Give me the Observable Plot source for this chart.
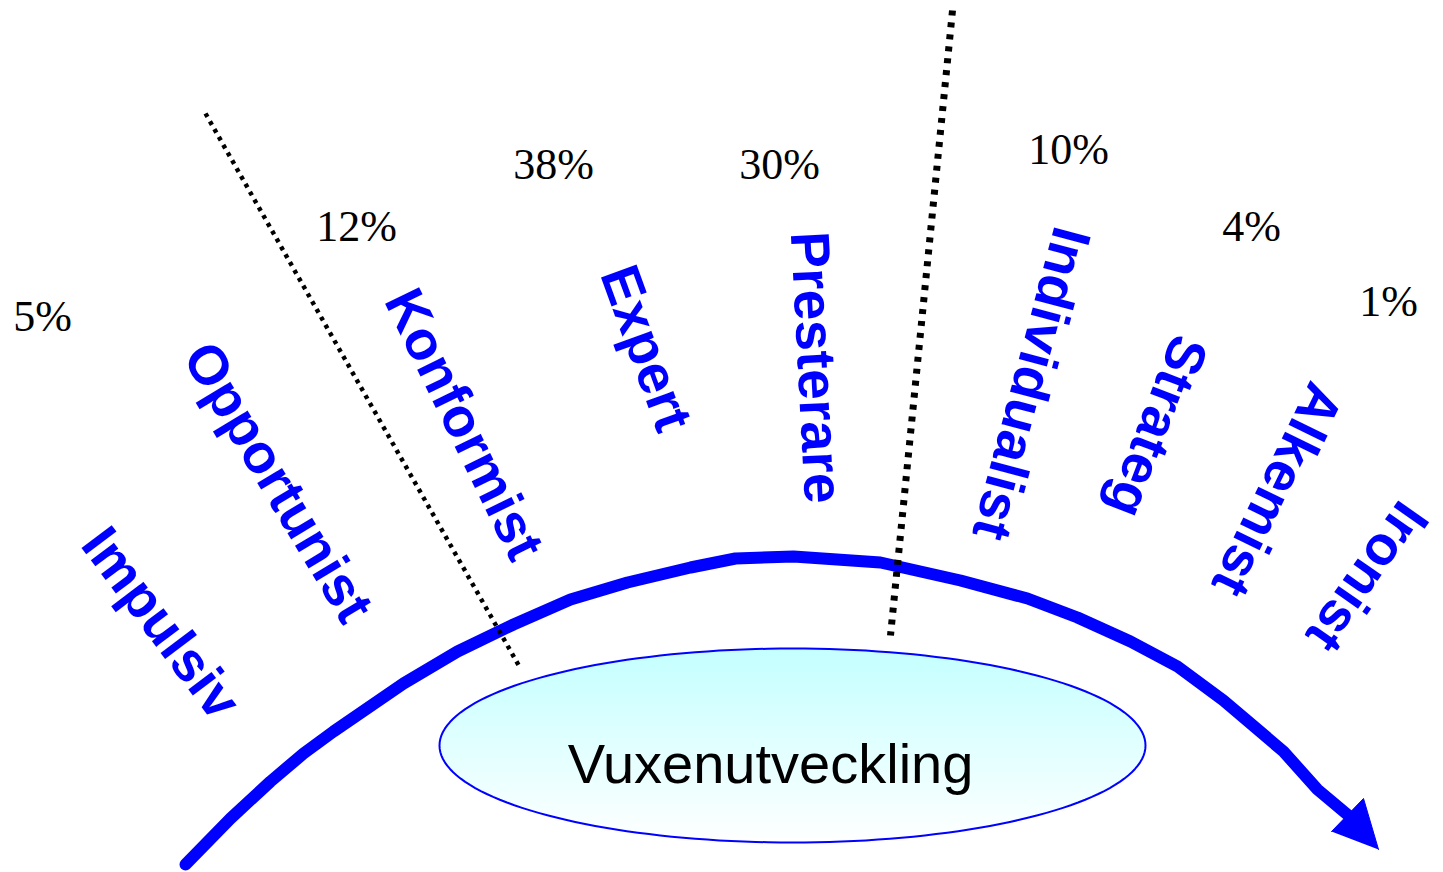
<!DOCTYPE html>
<html><head><meta charset="utf-8">
<script src="https://cdn.jsdelivr.net/npm/d3@7"></script>
<script src="https://cdn.jsdelivr.net/npm/@observablehq/plot@0.6"></script>
<style>html,body{margin:0;padding:0;background:#fff;overflow:hidden;}</style>
</head><body><div id="chart"></div>
<script>
// Stage labels (blue, rotated along the arc)
const stages = ["Impulsiv","Opportunist","Konformist","Expert","Presterare","Individualist","Strateg","Alkemist","Ironist"];
const stageX = [160, 277, 463, 645, 815, 1030, 1156, 1276, 1366];
const stageY = [623, 482, 424, 348, 367, 383, 426, 489, 576];
const stageAngle = [53, 59, 64, 70, 87, 105, 111, 116, 125];

// Percentages (black, serif)
const shares = ["5%","12%","38%","30%","10%","4%","1%"];
const shareX = [42, 356, 553, 779, 1068, 1251, 1388];
const shareY = [316, 226, 164, 164, 149, 226, 301];

// Development arc (thick blue arrow)
const arcX = [185, 230, 270, 303, 333, 403, 457, 513, 570, 627, 690, 735, 793, 880, 960, 1027, 1077, 1130, 1177, 1223, 1283, 1317, 1348];
const arcY = [864, 818, 781, 753, 731, 683, 651, 624, 599, 582, 567, 558, 556, 562, 580, 598, 617, 641, 666, 700, 751, 789, 815];
const headX = [1331, 1363, 1378];
const headY = [831, 798, 849];

// Dotted dividers
const div1X = [205, 520], div1Y = [113, 668];
const div2X = [952, 890], div2Y = [10, 635];

// Centre ellipse
const ellipseLabel = "Vuxenutveckling";
const ellCx = 792, ellCy = 745, ellRx = 353, ellRy = 97;

const zip = (xs, ys) => xs.map((x, i) => ({x, y: ys[i]}));
const ellipsePts = d3.range(0, 361, 2).map(a => ({
  x: ellCx + ellRx * Math.cos(a * Math.PI / 180),
  y: ellCy + ellRy * Math.sin(a * Math.PI / 180)
}));

const defs = () => {
  const s = d3.create("svg:defs");
  const g = s.append("linearGradient").attr("id", "vuxgrad")
    .attr("x1", 0).attr("y1", 0).attr("x2", 0).attr("y2", 1);
  g.append("stop").attr("offset", "0%").attr("stop-color", "#c4ffff");
  g.append("stop").attr("offset", "100%").attr("stop-color", "#ffffff");
  return s.node();
};

const chart = Plot.plot({
  width: 1443, height: 872,
  margin: 0,
  x: {domain: [0, 1443], axis: null},
  y: {domain: [872, 0], axis: null},
  style: {background: "#fff"},
  marks: [
    defs,
    Plot.line(ellipsePts, {x: "x", y: "y", fill: "url(#vuxgrad)", stroke: "#0000ff", strokeWidth: 2}),
    Plot.text([ellipseLabel], {x: [770], y: [765], text: d => d, fontSize: 56, fill: "#000",
      fontFamily: "Liberation Sans, Arial, sans-serif"}),
    Plot.line(zip(arcX, arcY), {x: "x", y: "y", stroke: "#0000ff", strokeWidth: 12, curve: "linear", strokeLinejoin: "round"}),
    Plot.line(zip(headX, headY), {x: "x", y: "y", fill: "#0000ff", stroke: "#0000ff", strokeWidth: 1}),
    Plot.line(zip(div1X, div1Y), {x: "x", y: "y", stroke: "#000", strokeWidth: 4.5, strokeDasharray: "4 5", strokeLinecap: "butt"}),
    Plot.line(zip(div2X, div2Y), {x: "x", y: "y", stroke: "#000", strokeWidth: 7, strokeDasharray: "5 7", strokeLinecap: "butt"}),
    Plot.text(stages.map((s, i) => ({s, x: stageX[i], y: stageY[i], a: stageAngle[i]})), {
      x: "x", y: "y", text: "s", rotate: "a", fontSize: 55, fontWeight: "bold", fill: "#0000ff",
      fontFamily: "Liberation Sans, Arial, sans-serif"}),
    Plot.text(shares.map((s, i) => ({s, x: shareX[i], y: shareY[i]})), {
      x: "x", y: "y", text: "s", fontSize: 44, fill: "#000",
      fontFamily: "Liberation Serif, Times New Roman, serif"})
  ]
});
document.getElementById("chart").appendChild(chart);
</script>
</body></html>
